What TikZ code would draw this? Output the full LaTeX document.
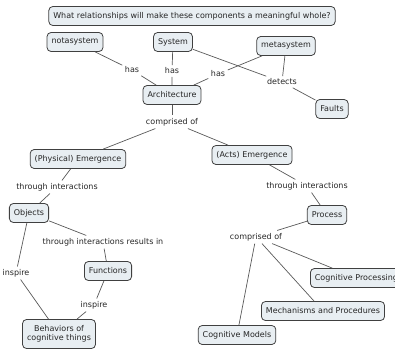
\documentclass[tikz,border=0pt]{standalone}
\usepackage{fontspec}
\setmainfont{DejaVu Sans}
\begin{document}
\begin{tikzpicture}[x=1pt,y=-1pt,
  concept/.style={draw=black!75,fill=boxfill,rounded corners=4pt,line width=0.8pt,
    font=\fontsize{8}{9.5}\selectfont,inner xsep=4.5pt,minimum height=19pt,align=center,text=black!85},
  link/.style={font=\fontsize{8}{9.5}\selectfont,inner sep=2.5pt,text=black!85},
  conn/.style={draw=black!65,line width=0.7pt}]
\definecolor{boxfill}{HTML}{E8EEF2}
\useasboundingbox (0,0) rectangle (395,353);
\clip (0,0) rectangle (395,353);

% concepts
\node[concept] (q) at (192,16) {What relationships will make these components a meaningful whole?};
\node[concept] (nota) at (75,42) {notasystem};
\node[concept] (sys) at (173,42) {System};
\node[concept] (meta) at (286,46) {metasystem};
\node[concept] (arch) at (172,95) {Architecture};
\node[concept] (faults) at (332,109) {Faults};
\node[concept] (phys) at (78,159) {(Physical) Emergence};
\node[concept] (acts) at (252,155) {(Acts) Emergence};
\node[concept] (obj) at (29,213) {Objects};
\node[concept] (proc) at (327,215) {Process};
\node[concept] (func) at (108,271) {Functions};
\node[concept,minimum height=29pt] (beh) at (59,334) {Behaviors of\\cognitive things};
\node[concept,anchor=west] (cproc) at (310,278) {Cognitive Processing};
\node[concept] (mech) at (323,311) {Mechanisms and Procedures};
\node[concept] (cmod) at (237,335) {Cognitive Models};

% linking phrases
\node[link] (has1) at (132,70) {has};
\node[link] (has2) at (172,71) {has};
\node[link] (has3) at (218,74) {has};
\node[link] (det) at (282,82) {detects};
\node[link] (comp1) at (172,122) {comprised of};
\node[link] (thr1) at (57,187) {through interactions};
\node[link] (thr2) at (307,186) {through interactions};
\node[link] (thr3) at (103,242) {through interactions results in};
\node[link] (insp1) at (16,273) {inspire};
\node[link] (insp2) at (94,305) {inspire};
\node[link] (comp2) at (256,237) {comprised of};

% connectors
\draw[conn] (nota) -- (has1) -- (arch);
\draw[conn] (sys) -- (has2) -- (arch);
\draw[conn] (meta) -- (has3) -- (arch);
\draw[conn] (sys) -- (det);
\draw[conn] (meta) -- (det);
\draw[conn] (det) -- (faults);
\draw[conn] (arch) -- (comp1);
\draw[conn] (comp1) -- (phys);
\draw[conn] (comp1) -- (acts);
\draw[conn] (phys) -- (thr1) -- (obj);
\draw[conn] (acts) -- (thr2) -- (proc);
\draw[conn] (obj) -- (thr3) -- (func);
\draw[conn] (obj) -- (insp1) -- (beh);
\draw[conn] (func) -- (insp2) -- (beh);
\draw[conn] (proc) -- (comp2);
\draw[conn] (comp2) -- (cproc);
\draw[conn] (comp2) -- (mech);
\draw[conn] (comp2) -- (cmod);
\end{tikzpicture}
\end{document}
